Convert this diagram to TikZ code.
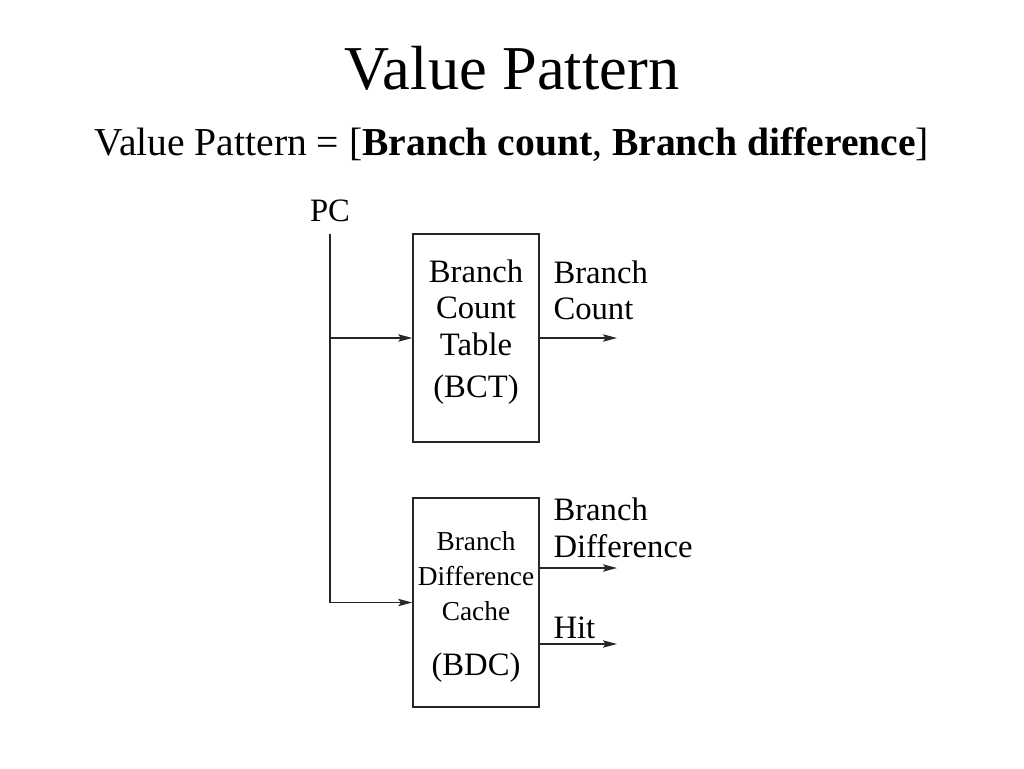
\documentclass[tikz,border=0pt]{standalone}
\usepackage{fontspec}
\setmainfont{Liberation Serif}
\usetikzlibrary{arrows.meta}

\tikzset{every picture/.style={line width=0.75pt}}
\tikzset{
  unitbox/.style={draw=black!85, line width=1.1pt, rectangle, minimum width=94.5pt, minimum height=156pt, inner sep=0pt},
  wire/.style={draw=black!85, line width=1.1pt},
  flow/.style={wire, -{Stealth[length=10.5pt,width=5.5pt,inset=2pt]}},
  bigtxt/.style={inner sep=0.75pt, font=\fontsize{24.5}{27.4}\selectfont},
  smalltxt/.style={inner sep=0.75pt, font=\fontsize{20.5}{26.3}\selectfont}
}

\begin{document}
\begin{tikzpicture}[x=0.75pt,y=0.75pt,yscale=-1,xscale=1]
\path[use as bounding box] (0,0) rectangle (1024,768);

% Title
\node (title) at (512,68) [inner sep=0.75pt, font=\fontsize{46.8}{50}\selectfont] {Value Pattern};
\node (subtitle) at (512,145) [inner sep=0.75pt, font=\fontsize{29.7}{33}\selectfont] {Value Pattern = [\textbf{Branch count}, \textbf{Branch difference}]};

% Boxes
\node (bct) at (476,338) [unitbox] {};
\node (bdc) at (476,602.5) [unitbox, minimum height=156.75pt] {};

% Text Node
\node (pc) at (330,211) [bigtxt] {PC};
\node (bcttxt) at (476,332) [bigtxt, align=center] {Branch\\Count\\Table\\[4pt](BCT)};
\node (bdctxt) at (476,576) [smalltxt, align=center] {Branch\\Difference\\Cache};
\node (bdcname) at (476,668) [bigtxt] {(BDC)};
\node (countlbl) at (552,290.5) [bigtxt, anchor=west, align=left] {Branch\\Count};
\node (difflbl) at (552,528) [bigtxt, anchor=west, align=left] {Branch\\Difference};
\node (hitlbl) at (552,628) [bigtxt, anchor=west] {Hit};

% Coordinates
\coordinate (pctop) at (330,234);
\coordinate (countout) at (617,338);
\coordinate (diffout) at (617,568);
\coordinate (hitout) at (617,644);

%Straight Lines
\draw[flow] (pctop) |- (bdc.west);
\draw[flow] (pctop |- bct.west) -- (bct.west);
\draw[flow] (bct.east) -- (countout);
\draw[flow] (diffout -| bdc.east) -- (diffout);
\draw[flow] (hitout -| bdc.east) -- (hitout);

\end{tikzpicture}
\end{document}
